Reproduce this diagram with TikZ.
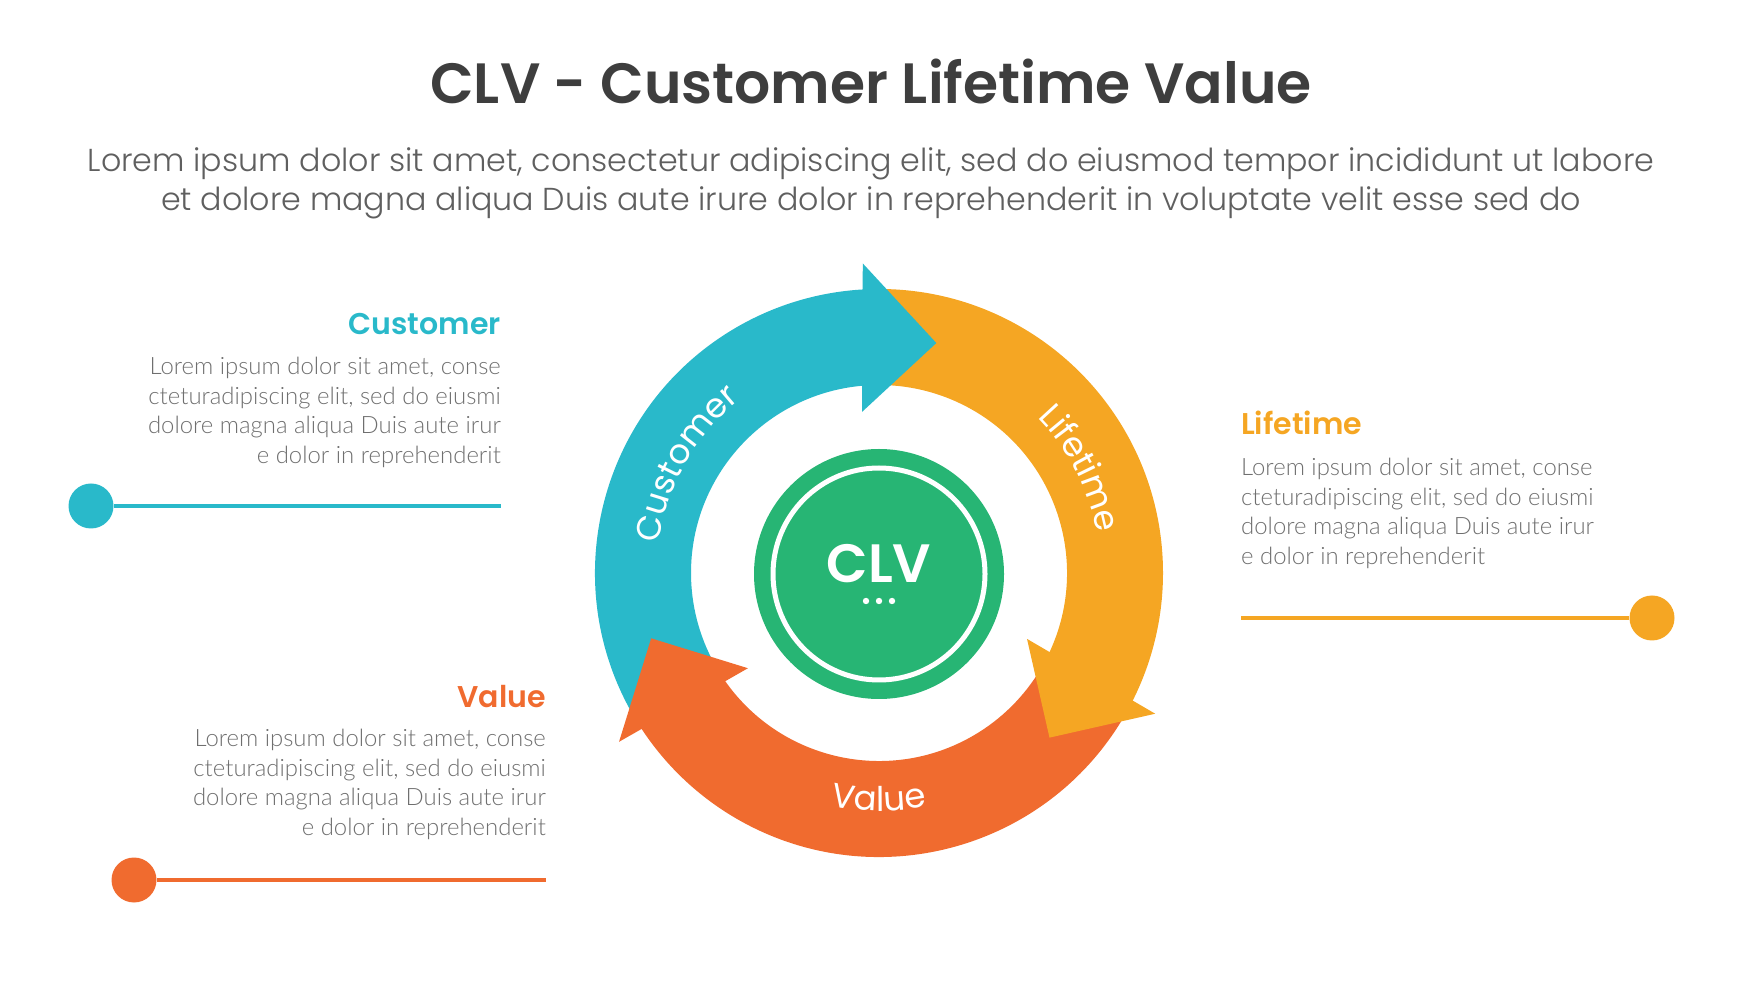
\documentclass[tikz,border=0pt]{standalone}
\usepackage{fontspec}
\setmainfont{Lato Light}
\newfontfamily\poppins{Poppins}
\newfontfamily\poppinslight{Poppins Light}
\newfontfamily\poppinssemi{Poppins SemiBold}
\usetikzlibrary{decorations.text}

\definecolor{custC}{HTML}{29B9CA}
\definecolor{lifeC}{HTML}{F5A623}
\definecolor{valC}{HTML}{F06B2F}
\definecolor{clvC}{HTML}{27B574}
\definecolor{titleC}{HTML}{3E3E3E}
\definecolor{subC}{HTML}{5F5F5F}
\definecolor{loremC}{HTML}{6F6F6F}

\tikzset{
	heading/.style={font=\poppinssemi\fontsize{30}{30}\selectfont, inner sep=0pt},
	lorem/.style={font=\fontsize{23.9}{29.6}\selectfont, text=loremC, inner sep=0pt},
	pin/.style={circle, minimum size=45pt, inner sep=0pt},
	ringlabel/.style={decorate, decoration={text along path, text={|\poppins\fontsize{34}{34}\selectfont|#1}, text color=white, text align=center}}
}

\begin{document}
\begin{tikzpicture}[x=1pt, y=1pt]
		\useasboundingbox (0,0) rectangle (1742,980);
		
		% Title
		\node[font=\poppinssemi\fontsize{56.8}{56.8}\selectfont, text=titleC, anchor=base] (title) at (871,876) {CLV - Customer Lifetime Value};
		\node[font=\poppinslight\fontsize{31.7}{31.7}\selectfont, text=subC, anchor=base] (sub1) at (871,808) {Lorem ipsum dolor sit amet, consectetur adipiscing elit, sed do eiusmod tempor incididunt ut labore};
		\node[font=\poppinslight\fontsize{31.7}{31.7}\selectfont, text=subC, anchor=base] (sub2) at (871,769) {et dolore magna aliqua Duis aute irure dolor in reprehenderit in voluptate velit esse sed do};
		
		\begin{scope}[shift={(879,407)}]
			% Ring bodies
			\foreach \col/\tail/\tip in {custC/211/76, lifeC/91/-44, valC/-29/-164}
			\fill[\col] (\tail:284) arc[start angle=\tail, end angle=\tip+16, radius=284]
			-- ({\tip+16}:188) arc[start angle=\tip+16, end angle=\tail, radius=188] -- cycle;
			
			% Arrow heads
			\foreach \col/\tip in {custC/76, lifeC/-44, valC/-164}
			\fill[\col] ({\tip+17}:310) -- (\tip:237) -- ({\tip+20}:162) -- cycle;
			
			% Labels on the ring
			\path[ringlabel=Customer] (180:222) arc[start angle=180, end angle=121, radius=222];
			\path[ringlabel=Lifetime] (57:222) arc[start angle=57, end angle=-2, radius=222];
			\path[ringlabel=Value] (240:238) arc[start angle=240, end angle=300, radius=238];
			
			% Centre badge
			\node[circle, fill=clvC, minimum size=250pt, inner sep=0pt] (clv) at (0,-1) {};
			\draw[white, line width=5pt] (clv.center) circle (106);
			\node[font=\poppinssemi\fontsize{54}{54}\selectfont, text=white, inner sep=0pt] (clvtext) at (0,9) {CLV};
			\foreach \dx in {-13,0,13}
			\fill[white] (\dx,-28) circle (3.2);
		\end{scope}
		
		% Customer
		\node[heading, text=custC, anchor=base east] (custhead) at (501,645) {Customer};
		\node[lorem, align=right, anchor=north east] (custtext) at (501,623) {Lorem ipsum dolor sit amet, conse\\cteturadipiscing elit, sed do eiusmi\\dolore magna aliqua Duis aute irur\\e dolor in reprehenderit};
		\node[pin, fill=custC] (custpin) at (91,474) {};
		\coordinate (custend) at (501,474);
		\draw[custC, line width=4.5pt] (custpin) -- (custend);
		
		% Lifetime
		\node[heading, text=lifeC, anchor=base west] (lifehead) at (1241,545) {Lifetime};
		\node[lorem, align=left, anchor=north west] (lifetext) at (1241,522) {Lorem ipsum dolor sit amet, conse\\cteturadipiscing elit, sed do eiusmi\\dolore magna aliqua Duis aute irur\\e dolor in reprehenderit};
		\node[pin, fill=lifeC] (lifepin) at (1652,362) {};
		\coordinate (lifeend) at (1241,362);
		\draw[lifeC, line width=4.5pt] (lifeend) -- (lifepin);
		
		% Value
		\node[heading, text=valC, anchor=base east] (valhead) at (546,272) {Value};
		\node[lorem, align=right, anchor=north east] (valtext) at (546,251) {Lorem ipsum dolor sit amet, conse\\cteturadipiscing elit, sed do eiusmi\\dolore magna aliqua Duis aute irur\\e dolor in reprehenderit};
		\node[pin, fill=valC] (valpin) at (134,100) {};
		\coordinate (valend) at (546,100);
		\draw[valC, line width=4.5pt] (valpin) -- (valend);
	\end{tikzpicture}
\end{document}
